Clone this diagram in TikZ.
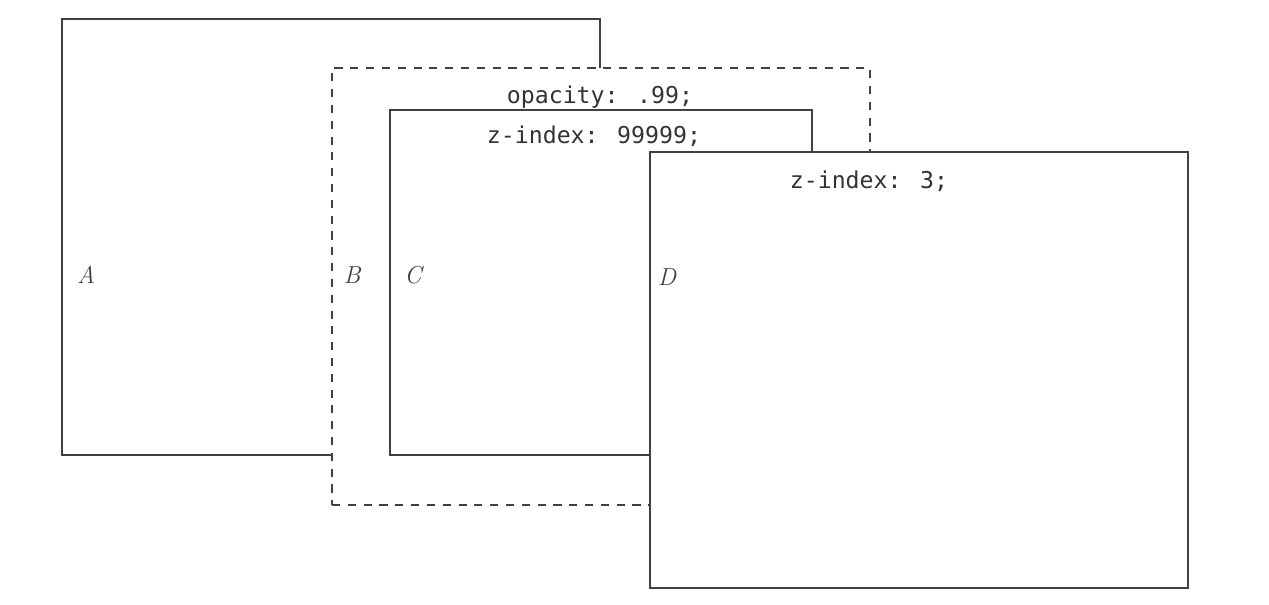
\documentclass[tikz,border=0pt]{standalone}
\usepackage{fontspec}
\newfontfamily\codefont{DejaVu Sans Mono}
\begin{document}
\begin{tikzpicture}[x=0.02cm,y=-0.02cm,
  box/.style={draw=black!75, line width=1.6pt, fill=white, inner sep=0pt, anchor=center},
  dbox/.style={box, dash pattern=on 4.6pt off 4.4pt},
  code/.style={font=\codefont\fontsize{13.2}{15}\selectfont, text=black!80, inner sep=0pt},
  lab/.style={font=\fontsize{14}{16}\selectfont\itshape, text=black!75, inner sep=0pt}]
\useasboundingbox (0,0) rectangle (1269,605);
\node[box, minimum width=10.76cm, minimum height=8.72cm] (A) at (331,237) {};
\node[dbox, minimum width=10.76cm, minimum height=8.74cm] (B) at (601,286.5) {};
\node[box, minimum width=8.44cm, minimum height=6.90cm] (C) at (601,282.5) {};
\node[box, minimum width=10.76cm, minimum height=8.72cm] (D) at (919,370) {};
\node[code] (tB) at (600,97) {opacity: .99;};
\node[code] (tC) at (594,136) {z-index: 99999;};
\node[code] (tD) at (869,181) {z-index: 3;};
\node[lab] (lA) at (86,275) {A};
\node[lab] (lB) at (352,275) {B};
\node[lab] (lC) at (413,275) {C};
\node[lab] (lD) at (667,277) {D};
\end{tikzpicture}
\end{document}
